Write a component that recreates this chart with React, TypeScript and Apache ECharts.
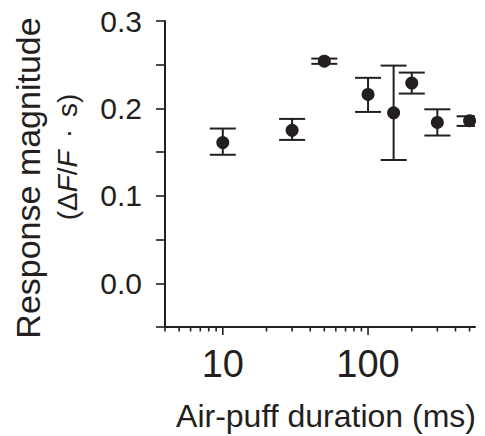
import React, { useEffect, useRef } from "react";
import * as echarts from "echarts";

const durations = [10, 30, 50, 100, 150, 200, 300, 500];
const means = [0.161, 0.175, 0.254, 0.216, 0.195, 0.229, 0.184, 0.186];
const lower = [0.147, 0.164, 0.251, 0.196, 0.141, 0.217, 0.169, 0.180];
const upper = [0.177, 0.188, 0.257, 0.235, 0.249, 0.241, 0.199, 0.191];

const majorTicks = [10, 100];
const minorTicks = [4, 5, 6, 7, 8, 9, 20, 30, 40, 50, 60, 70, 80, 90, 200, 300, 400, 500];
const xLabels = [10, 100];

const INK = "#231f20";
const FONT = "'Liberation Sans', Arial, Helvetica, sans-serif";
const X_MIN = 4;
const X_MAX = 545;
const Y_MIN = -0.05;
const Y_MAX = 0.3;

export default function App() {
  const ref = useRef<HTMLDivElement>(null);
  useEffect(() => {
    if (!ref.current) return;
    const chart = echarts.init(ref.current, undefined, { renderer: "svg" });
    const tickData = [
      ...majorTicks.map((v) => [v, Y_MIN, 1]),
      ...minorTicks.map((v) => [v, Y_MIN, 0]),
    ];
    chart.setOption({
      animation: false,
      backgroundColor: "#ffffff",
      grid: { left: 165, top: 21, right: 10, bottom: 109, containLabel: false },
      xAxis: {
        type: "log",
        logBase: 10,
        min: X_MIN,
        max: X_MAX,
        splitLine: { show: false },
        axisTick: { show: false },
        axisLine: { onZero: false, lineStyle: { color: INK, width: 2 } },
        axisLabel: {
          interval: 0,
          margin: 18,
          fontSize: 38,
          fontFamily: FONT,
          color: INK,
          formatter: (v: number) => {
            const r = Math.round(v);
            return xLabels.includes(r) && Math.abs(v - r) < 1e-6 ? String(r) : "";
          },
        },
      },
      yAxis: {
        type: "value",
        min: Y_MIN,
        max: Y_MAX,
        interval: 0.05,
        splitLine: { show: false },
        axisLine: { show: true, onZero: false, lineStyle: { color: INK, width: 2 } },
        axisTick: { show: true, length: 9, lineStyle: { color: INK, width: 1.6 } },
        axisLabel: {
          interval: 0,
          margin: 23,
          fontSize: 30,
          fontFamily: FONT,
          color: INK,
          formatter: (v: number) => {
            const t = Math.round(v * 100);
            if (t < 0 || t % 10 !== 0) return "";
            return (t / 100).toFixed(1);
          },
        },
      },
      series: [
        {
          type: "custom",
          name: "yaxisline",
          clip: false,
          silent: true,
          data: [[X_MIN, Y_MIN, Y_MAX]],
          renderItem: (params: any, api: any) => {
            const a = api.coord([api.value(0), api.value(1)]);
            const b = api.coord([api.value(0), api.value(2)]);
            return {
              type: "line",
              shape: { x1: a[0], y1: a[1], x2: b[0], y2: b[1] },
              style: { stroke: INK, lineWidth: 2 },
            };
          },
        },
        {
          type: "custom",
          name: "xticks",
          clip: false,
          silent: true,
          data: tickData,
          renderItem: (params: any, api: any) => {
            const p = api.coord([api.value(0), api.value(1)]);
            const len = api.value(2) === 1 ? 8 : 4.5;
            return {
              type: "line",
              shape: { x1: p[0], y1: p[1], x2: p[0], y2: p[1] + len },
              style: { stroke: INK, lineWidth: 1.6 },
            };
          },
        },
        {
          type: "custom",
          name: "errorbars",
          clip: true,
          silent: true,
          data: durations.map((d, i) => [d, lower[i], upper[i]]),
          renderItem: (params: any, api: any) => {
            const lo = api.coord([api.value(0), api.value(1)]);
            const hi = api.coord([api.value(0), api.value(2)]);
            const hw = 13;
            const st = { stroke: INK, lineWidth: 2 };
            return {
              type: "group",
              children: [
                { type: "line", shape: { x1: lo[0], y1: lo[1], x2: hi[0], y2: hi[1] }, style: st },
                { type: "line", shape: { x1: lo[0] - hw, y1: lo[1], x2: lo[0] + hw, y2: lo[1] }, style: st },
                { type: "line", shape: { x1: hi[0] - hw, y1: hi[1], x2: hi[0] + hw, y2: hi[1] }, style: st },
              ],
            };
          },
        },
        {
          type: "scatter",
          name: "means",
          symbol: "circle",
          symbolSize: 13,
          itemStyle: { color: INK, opacity: 1 },
          data: durations.map((d, i) => [d, means[i]]),
          z: 5,
        },
      ],
      graphic: [
        {
          type: "text",
          x: 28,
          y: 178,
          rotation: Math.PI / 2,
          style: {
            text: "Response magnitude",
            fontSize: 34,
            fontFamily: FONT,
            fill: INK,
            align: "center",
            verticalAlign: "middle",
            textAlign: "center",
            textVerticalAlign: "middle",
          },
        },
        {
          type: "text",
          x: 67,
          y: 157,
          rotation: Math.PI / 2,
          style: {
            text: "(Δ{i|F}/{i|F}{d|·}s)",
            fontSize: 28,
            fontFamily: FONT,
            fill: INK,
            align: "center",
            verticalAlign: "middle",
            textAlign: "center",
            textVerticalAlign: "middle",
            rich: {
              i: { fontStyle: "italic", fontSize: 28, fontFamily: FONT, fill: INK },
              d: { fontSize: 28, fontFamily: FONT, fill: INK, padding: [0, 12] },
            },
          },
        },
        {
          type: "text",
          x: 326,
          y: 416,
          style: {
            text: "Air-puff duration (ms)",
            fontSize: 32,
            fontFamily: FONT,
            fill: INK,
            align: "center",
            verticalAlign: "middle",
            textAlign: "center",
            textVerticalAlign: "middle",
          },
        },
      ],
    });
    return () => chart.dispose();
  }, []);
  return (
    <div
      ref={ref}
      style={{ position: "fixed", left: 0, top: 0, width: 485, height: 436 }}
    />
  );
}
